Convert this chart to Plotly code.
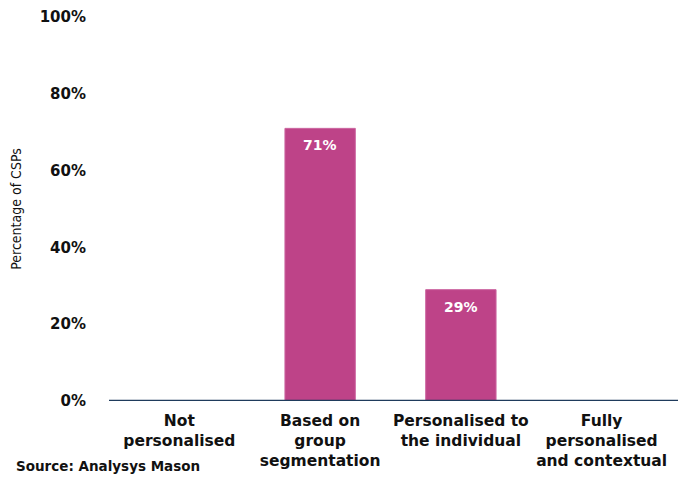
import plotly.graph_objects as go

categories = ["Not<br>personalised", "Based on<br>group<br>segmentation",
              "Personalised to<br>the individual", "Fully<br>personalised<br>and contextual"]
values = [0, 71, 29, 0]
labels = ["", "71%", "29%", ""]
y_ticks = [0, 20, 40, 60, 80, 100]
y_tick_text = ["0%", "20%", "40%", "60%", "80%", "100%"]

fig = go.Figure()
fig.add_trace(go.Bar(
    x=categories, y=values,
    marker=dict(color="#BE4388", line=dict(color="#CC66A0", width=1)),
))

for c, v, t in zip(categories, values, labels):
    if t:
        fig.add_annotation(x=c, y=v, text=t, showarrow=False, yanchor="top", yshift=-7,
                           font=dict(family="DejaVu Sans", size=14, color="white", weight="bold"))

fig.update_layout(
    width=678, height=472,
    margin=dict(l=100.5, r=13.5, t=9, b=79),
    paper_bgcolor="white", plot_bgcolor="white",
    bargap=0.5, showlegend=False,
    font=dict(family="DejaVu Sans", color="#111111"),
    xaxis=dict(showgrid=False, showline=False, zeroline=False, automargin=False,
               tickfont=dict(family="DejaVu Sans", size=15.5, weight="bold", color="#111111"),
               ticks="", ticklabelstandoff=8),
    yaxis=dict(range=[0, 100], tickvals=y_ticks, ticktext=y_tick_text, automargin=False,
               showgrid=False, zeroline=False, showline=False, ticks="",
               tickfont=dict(family="DejaVu Sans", size=15, weight="bold", color="#111111"),
               ticklabelstandoff=22,
               title=dict(text="Percentage of CSPs", standoff=14,
                          font=dict(family="DejaVu Sans Condensed", size=14, color="#111111"))),
)

fig.add_shape(type="line", xref="paper", yref="y", x0=0, x1=1.02, y0=0, y1=0,
              line=dict(color="#1F3B5C", width=2.5))

fig.add_annotation(text="<b>Source: Analysys Mason</b>", xref="paper", yref="paper",
                   x=-0.169, y=-0.169, xanchor="left", yanchor="middle", showarrow=False,
                   font=dict(family="DejaVu Sans", size=13.5, color="#111111"))

fig.write_html("out.html")
